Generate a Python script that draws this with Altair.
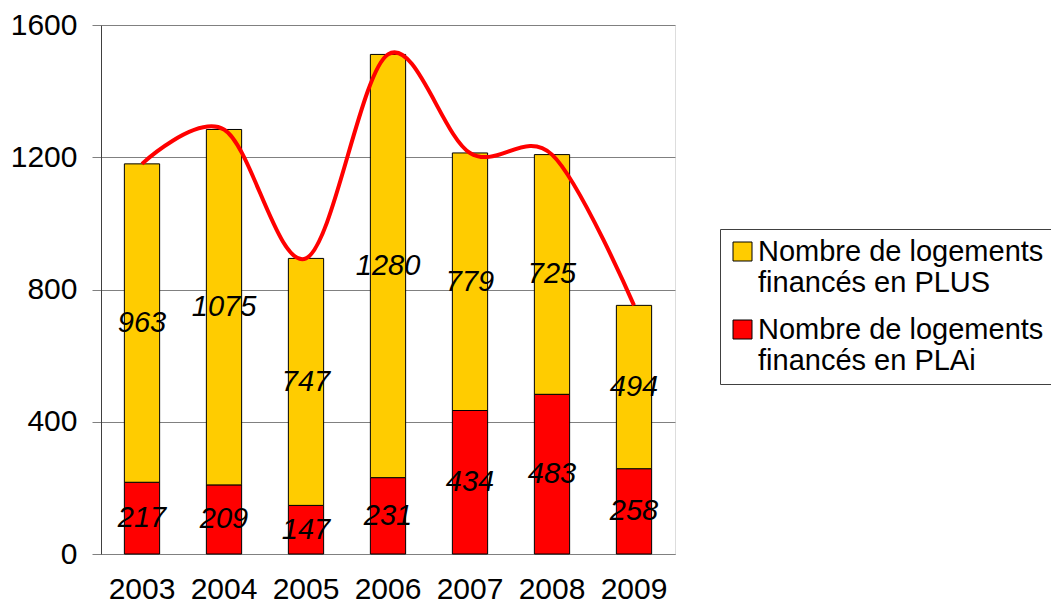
import altair as alt
import pandas as pd

years = ["2003", "2004", "2005", "2006", "2007", "2008", "2009"]
plai = [217, 209, 147, 231, 434, 483, 258]
plus = [963, 1075, 747, 1280, 779, 725, 494]
series_plus = "Nombre de logements|financés en PLUS"
series_plai = "Nombre de logements|financés en PLAi"
y_ticks = [0, 400, 800, 1200, 1600]

rows = []
for y, a, b in zip(years, plai, plus):
    rows.append({"year": y, "series": series_plai, "value": a, "ord": 0})
    rows.append({"year": y, "series": series_plus, "value": b, "ord": 1})
df = pd.DataFrame(rows)

FONT = "Liberation Sans"

x_enc = alt.X(
    "year:N",
    sort=years,
    scale=alt.Scale(paddingInner=0.57, paddingOuter=0.285),
    axis=alt.Axis(
        title=None, labelAngle=0, ticks=False, labelPadding=20,
        labelFontSize=30, labelFont=FONT, labelColor="black",
        domainColor="#808080", grid=False,
    ),
)
y_scale = alt.Scale(domain=[0, 1600], nice=False)

base = alt.Chart(df)

bars = base.mark_bar(stroke="black", strokeWidth=1).encode(
    x=x_enc,
    y=alt.Y(
        "value:Q", stack="zero", scale=y_scale,
        axis=alt.Axis(
            title=None, values=y_ticks, format="d", tickSize=9, labelPadding=15,
            labelFontSize=30, labelFont=FONT, labelColor="black",
            domainColor="#404040", tickColor="#808080",
            gridColor="#808080", grid=True,
        ),
    ),
    color=alt.Color(
        "series:N",
        scale=alt.Scale(domain=[series_plus, series_plai], range=["#FFCC00", "#FF0000"]),
        legend=alt.Legend(
            title=None, orient="none", legendX=619, legendY=204,
            fillColor="white", strokeColor="#404040", padding=8,
            symbolType="square", symbolSize=361, symbolStrokeColor="black",
            symbolStrokeWidth=1, labelFontSize=29, labelFont=FONT,
            labelColor="black", labelOffset=1, rowPadding=17,
            labelLimit=600, labelExpr="split(datum.label, '|')",
        ),
    ),
    order=alt.Order("ord:Q"),
)

line = base.transform_aggregate(
    total="sum(value)", groupby=["year"]
).mark_line(color="#FF0000", strokeWidth=4, interpolate="cardinal").encode(
    x=alt.X("year:N", sort=years),
    y=alt.Y("total:Q", scale=y_scale, title=None),
)

labels = base.transform_stack(
    stack="value", groupby=["year"], sort=[alt.SortField("ord")], as_=["y0", "y1"]
).transform_calculate(
    mid="(datum.y0 + datum.y1) / 2"
).mark_text(
    fontStyle="italic", fontSize=29, font=FONT, color="black", baseline="middle"
).encode(
    x=alt.X("year:N", sort=years),
    y=alt.Y("mid:Q", scale=y_scale, title=None),
    text=alt.Text("value:Q"),
)

chart = alt.layer(bars, line, labels).properties(
    width=574, height=529,
    autosize=alt.AutoSizeParams(type="none"),
    padding={"left": 93, "top": 17, "right": 376, "bottom": 50},
).configure_view(stroke="#808080", strokeWidth=1).configure(background="white")

chart.save("out.html", embed_options={"renderer": "svg", "actions": False})
